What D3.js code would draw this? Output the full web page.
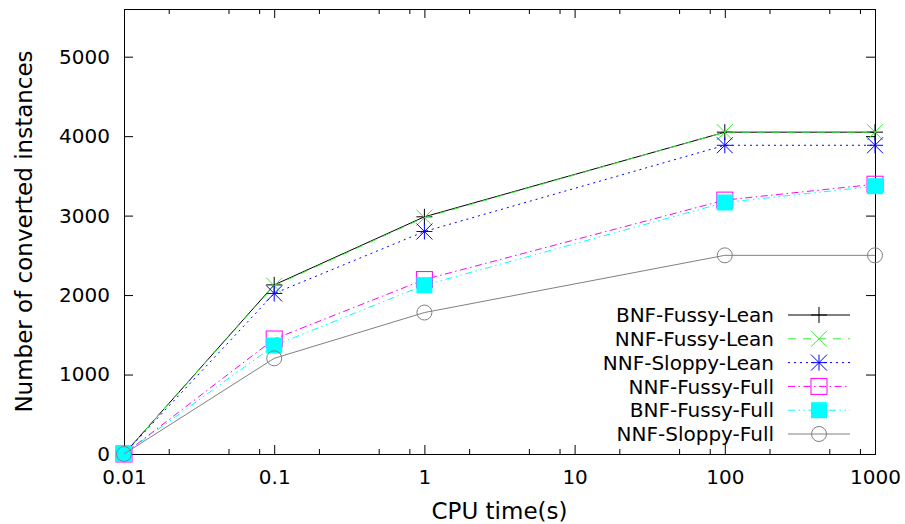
<!DOCTYPE html>
<html>
<head>
<meta charset="utf-8">
<script src="https://cdn.jsdelivr.net/npm/d3@7"></script>
<style>
  body { margin: 0; background: #fff; }
  text { font-family: "DejaVu Sans", sans-serif; fill: #000; }
</style>
</head>
<body>
<script>
// data
var times = [0.01, 0.1, 1, 100, 1000];
var bnfFussyLean  = [0, 2128, 2985, 4050, 4050];
var nnfFussyLean  = [0, 2118, 2975, 4050, 4050];
var nnfSloppyLean = [0, 2020, 2800, 3885, 3885];
var nnfFussyFull  = [0, 1447, 2195, 3195, 3395];
var bnfFussyFull  = [0, 1365, 2125, 3165, 3370];
var nnfSloppyFull = [0, 1204, 1780, 2500, 2500];

var seriesNames = ["BNF-Fussy-Lean", "NNF-Fussy-Lean", "NNF-Sloppy-Lean",
                   "NNF-Fussy-Full", "BNF-Fussy-Full", "NNF-Sloppy-Full"];
var seriesValues = [bnfFussyLean, nnfFussyLean, nnfSloppyLean,
                    nnfFussyFull, bnfFussyFull, nnfSloppyFull];

var xTicks = [0.01, 0.1, 1, 10, 100, 1000];
var xTickLabels = ["0.01", "0.1", "1", "10", "100", "1000"];
var yTicks = [0, 1000, 2000, 3000, 4000, 5000];

// styles per series
var colors = ["#000000", "#33f033", "#0000ff", "#ff00ff", "#00ffff", "#808080"];
var dashes = [null, "8,7", "2,4", "7,3.5,1.5,3.5", "7,3.5,1.5,3.5,1.5,3.5", null];
var markers = ["plus", "cross", "star", "square", "fsquare", "circle"];

var W = 905, H = 524;
var pLeft = 124, pRight = 875, pTop = 9, pBottom = 454;
var fs = 20;
var fsTitle = 23;

var svg = d3.select("body").append("svg")
    .attr("width", W)
    .attr("height", H);

var xscale = d3.scaleLog()
    .domain([0.01, 1000])
    .range([pLeft, pRight]);

var yscale = d3.scaleLinear()
    .domain([0, 5600])
    .range([pBottom, pTop]);

// minor ticks at 2, 5, 8 of each decade
var minor = [];
for (var i = 0; i < xTicks.length - 1; i++) {
    [2, 5, 8].forEach(function(m){ minor.push(xTicks[i] * m); });
}

// bottom axis
var xaxis = d3.axisBottom(xscale)
    .tickValues(xTicks)
    .tickFormat(function(d, i){ return xTickLabels[i]; })
    .tickSize(-9)
    .tickSizeOuter(0)
    .tickPadding(16);
var gx = svg.append("g")
    .attr("transform", "translate(0," + pBottom + ")")
    .call(xaxis)
    .attr("font-size", fs)
    .attr("font-family", "DejaVu Sans");
gx.select(".domain").remove();

// minor ticks bottom and top
svg.append("g").selectAll("line")
    .data(minor)
    .enter().append("line")
    .attr("x1", function(d){ return xscale(d); })
    .attr("x2", function(d){ return xscale(d); })
    .attr("y1", pBottom)
    .attr("y2", pBottom - 5)
    .attr("stroke", "#000");
svg.append("g").selectAll("line")
    .data(minor)
    .enter().append("line")
    .attr("x1", function(d){ return xscale(d); })
    .attr("x2", function(d){ return xscale(d); })
    .attr("y1", pTop)
    .attr("y2", pTop + 5)
    .attr("stroke", "#000");

// top mirror ticks
var xtop = d3.axisTop(xscale)
    .tickValues(xTicks)
    .tickFormat("")
    .tickSize(-9)
    .tickSizeOuter(0);
svg.append("g")
    .attr("transform", "translate(0," + pTop + ")")
    .call(xtop)
    .select(".domain").remove();

// left axis
var yaxis = d3.axisLeft(yscale)
    .tickValues(yTicks)
    .tickFormat(d3.format("d"))
    .tickSize(-9)
    .tickSizeOuter(0)
    .tickPadding(14);
var gy = svg.append("g")
    .attr("transform", "translate(" + pLeft + ",0)")
    .call(yaxis)
    .attr("font-size", fs)
    .attr("font-family", "DejaVu Sans");
gy.select(".domain").remove();

// right mirror ticks
var yright = d3.axisRight(yscale)
    .tickValues(yTicks)
    .tickFormat("")
    .tickSize(-9)
    .tickSizeOuter(0);
svg.append("g")
    .attr("transform", "translate(" + pRight + ",0)")
    .call(yright)
    .select(".domain").remove();

// frame
svg.append("rect")
    .attr("x", pLeft + 0.5)
    .attr("y", pTop + 0.5)
    .attr("width", pRight - pLeft)
    .attr("height", pBottom - pTop)
    .attr("fill", "none")
    .attr("stroke", "#000")
    .attr("stroke-width", 1);

// axis titles
svg.append("text")
    .attr("x", (pLeft + pRight) / 2)
    .attr("y", 519)
    .attr("text-anchor", "middle")
    .style("font-size", fsTitle + "px")
    .text("CPU time(s)");

svg.append("text")
    .attr("transform", "translate(32," + ((pTop + pBottom) / 2) + ") rotate(-90)")
    .attr("text-anchor", "middle")
    .style("font-size", fsTitle + "px")
    .text("Number of converted instances");

// marker drawing
function drawMarker(g, type, color, x, y) {
    var s = 8;
    if (type == "plus" || type == "star") {
        g.append("path")
            .attr("d", "M" + (x - s) + "," + y + "H" + (x + s) + "M" + x + "," + (y - s) + "V" + (y + s))
            .attr("stroke", color).attr("fill", "none");
    }
    if (type == "cross" || type == "star") {
        g.append("path")
            .attr("d", "M" + (x - s) + "," + (y - s) + "L" + (x + s) + "," + (y + s) +
                       "M" + (x - s) + "," + (y + s) + "L" + (x + s) + "," + (y - s))
            .attr("stroke", color).attr("fill", "none");
    }
    if (type == "square") {
        g.append("rect")
            .attr("x", x - s).attr("y", y - s)
            .attr("width", 2 * s).attr("height", 2 * s)
            .attr("stroke", color).attr("fill", "none");
    }
    if (type == "fsquare") {
        g.append("rect")
            .attr("x", x - s).attr("y", y - s)
            .attr("width", 2 * s).attr("height", 2 * s)
            .attr("fill", color);
    }
    if (type == "circle") {
        g.append("circle")
            .attr("cx", x).attr("cy", y).attr("r", 7.5)
            .attr("stroke", color).attr("fill", "none");
    }
}

// series lines and points
var line = d3.line()
    .x(function(d, i){ return xscale(times[i]); })
    .y(function(d){ return yscale(d); });

seriesValues.forEach(function(vals, k) {
    var g = svg.append("g").attr("class", "series");
    g.append("path")
        .datum(vals)
        .attr("d", line)
        .attr("fill", "none")
        .attr("stroke", colors[k])
        .attr("stroke-width", 1)
        .attr("stroke-dasharray", dashes[k]);
    vals.forEach(function(v, i) {
        drawMarker(g, markers[k], colors[k], xscale(times[i]), yscale(v));
    });
});

// legend
var legend = svg.append("g").attr("class", "legend");
seriesNames.forEach(function(name, k) {
    var ly = 315 + k * 23.8;
    legend.append("text")
        .attr("x", 774)
        .attr("y", ly)
        .attr("dy", "0.36em")
        .attr("text-anchor", "end")
        .style("font-size", fs + "px")
        .text(name);
    legend.append("line")
        .attr("x1", 788).attr("x2", 850)
        .attr("y1", ly).attr("y2", ly)
        .attr("stroke", colors[k])
        .attr("stroke-dasharray", dashes[k]);
    drawMarker(legend, markers[k], colors[k], 819, ly);
});
</script>
</body>
</html>
